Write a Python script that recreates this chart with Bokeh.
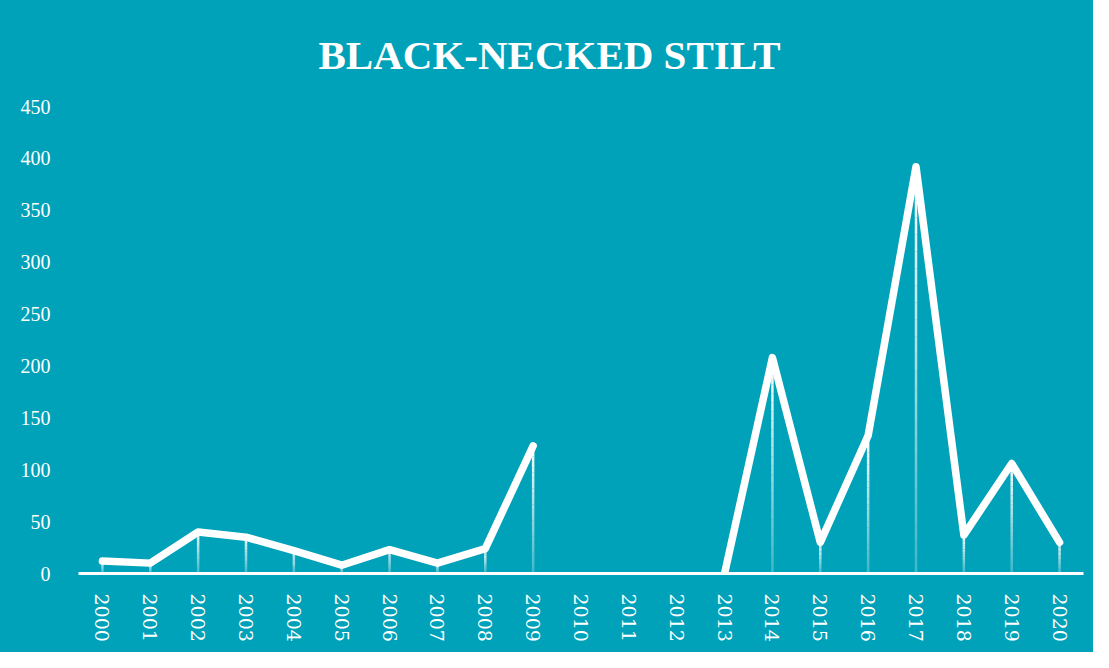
import math
from bokeh.plotting import figure
from bokeh.models import Range1d, FixedTicker, ColumnDataSource
from bokeh.embed import file_html
from bokeh.resources import INLINE

# ---- data ----
title_text = "BLACK-NECKED STILT"
years = [2000, 2001, 2002, 2003, 2004, 2005, 2006, 2007, 2008, 2009, 2010,
         2011, 2012, 2013, 2014, 2015, 2016, 2017, 2018, 2019, 2020]
year_labels = [str(y) for y in years]
counts = [12, 10, 40, 35, 22, 8, 23, 10, 24, 123, None,
          None, None, 0, 208, 30, 133, 392, 37, 106, 30]
y_ticks = [0, 50, 100, 150, 200, 250, 300, 350, 400, 450]

BG = "#00A2B9"

p = figure(width=1093, height=652, output_backend="svg", toolbar_location=None,
           x_range=Range1d(1999.5, 2020.5), y_range=Range1d(0, 450),
           min_border_left=78, min_border_right=10, min_border_top=104,
           min_border_bottom=79)
p.styles = {"background-color": BG}
p.background_fill_color = None
p.border_fill_color = None
p.outline_line_color = None
p.xgrid.visible = False
p.ygrid.visible = False

p.title.text = title_text
p.title.align = "left"
p.title.text_color = "white"
p.title.text_font = "Liberation Serif"
p.title.text_font_style = "bold"
p.title.text_font_size = "41px"
p.title.text_line_height = 0.8
p.title.offset = 240
p.title.standoff = 58

# gradient drop lines
x0, y0, x1, y1, al = [], [], [], [], []
N = 24
for yr, v in zip(years, counts):
    if v is None or v <= 0:
        continue
    for k in range(N):
        top = v * (1 - k / N)
        bot = v * (1 - (k + 1) / N)
        x0.append(yr); x1.append(yr); y0.append(top); y1.append(bot)
        al.append(1.0 - 0.75 * k / (N - 1))
seg = ColumnDataSource(dict(x0=x0, y0=y0, x1=x1, y1=y1, a=al))
p.segment("x0", "y0", "x1", "y1", source=seg, line_color="white",
          line_alpha="a", line_width=2.5)

ys = [float("nan") if v is None else v for v in counts]
p.line(years, ys, line_color="white", line_width=7.5, line_join="round",
       line_cap="round")

# axes
p.xaxis.ticker = FixedTicker(ticks=years)
p.xaxis.major_label_overrides = {y: s for y, s in zip(years, year_labels)}
p.xaxis.major_label_orientation = -math.pi / 2
p.xaxis.axis_line_color = "white"
p.xaxis.axis_line_width = 3
p.xaxis.major_tick_line_color = None
p.xaxis.minor_tick_line_color = None
p.xaxis.major_label_text_color = "white"
p.xaxis.major_label_text_font = "DejaVu Serif"
p.xaxis.major_label_text_font_size = "19px"
p.xaxis.major_label_standoff = 14

p.yaxis.ticker = FixedTicker(ticks=y_ticks)
p.yaxis.axis_line_color = None
p.yaxis.major_tick_line_color = None
p.yaxis.minor_tick_line_color = None
p.yaxis.major_label_text_color = "white"
p.yaxis.major_label_text_font = "Liberation Serif"
p.yaxis.major_label_text_font_size = "20px"
p.yaxis.major_label_standoff = 22

open("out.html", "w").write(file_html(p, INLINE))
